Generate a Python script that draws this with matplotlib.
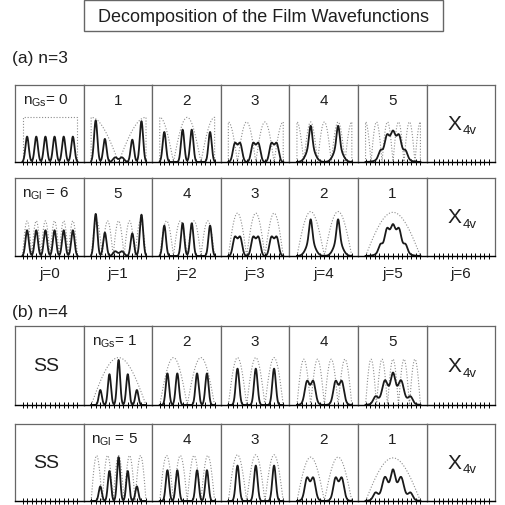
import numpy as np
import matplotlib
matplotlib.use("Agg")
import matplotlib.pyplot as plt
from matplotlib.patches import Rectangle

plt.rcParams["font.family"] = ["Liberation Sans", "DejaVu Sans"]
plt.rcParams["mathtext.fontset"] = "custom"
plt.rcParams["mathtext.rm"] = "Liberation Sans"
plt.rcParams["mathtext.it"] = "Liberation Sans:italic"

# ---- data ---------------------------------------------------------------
title = "Decomposition of the Film Wavefunctions"
j_labels = ["j=0", "j=1", "j=2", "j=3", "j=4", "j=5", "j=6"]

# (a) n=3 : panel labels, envelope index n_G, envelope amplitude
a_top_labels = [r"n$_{\mathrm{Gs}}$= 0", "1", "2", "3", "4", "5"]
a_top_nG = [0, 1, 2, 3, 4, 5]
a_top_amp = [0.58, 0.58, 0.58, 0.52, 0.52, 0.52]
a_bot_labels = [r"n$_{\mathrm{Gl}}$ = 6", "5", "4", "3", "2", "1"]
a_bot_nG = [6, 5, 4, 3, 2, 1]
a_bot_amp = [0.45, 0.45, 0.45, 0.55, 0.57, 0.56]

# (b) n=4 : columns j=1..5 (j=0 is the SS panel)
b_top_labels = [r"n$_{\mathrm{Gs}}$= 1", "2", "3", "4", "5"]
b_top_nG = [1, 2, 3, 4, 5]
b_top_amp = [0.60, 0.60, 0.60, 0.58, 0.58]
b_bot_labels = [r"n$_{\mathrm{Gl}}$ = 5", "4", "3", "2", "1"]
b_bot_nG = [5, 4, 3, 2, 1]
b_bot_amp = [0.59, 0.59, 0.60, 0.57, 0.56]

# projected film wavefunction per j: (position in film, height, width)
a_peaks = [
    [(0.083, 0.33, 0.03), (0.250, 0.33, 0.03), (0.417, 0.33, 0.03),
     (0.583, 0.33, 0.03), (0.750, 0.33, 0.03), (0.917, 0.33, 0.03)],
    [(0.083, 0.54, 0.03), (0.250, 0.30, 0.03), (0.440, 0.06, 0.04),
     (0.560, 0.06, 0.04), (0.750, 0.29, 0.03), (0.917, 0.53, 0.03)],
    [(0.083, 0.39, 0.03), (0.417, 0.42, 0.03), (0.583, 0.42, 0.03),
     (0.917, 0.39, 0.03)],
    [(0.117, 0.23, 0.036), (0.167, 0.05, 0.03), (0.217, 0.23, 0.036),
     (0.450, 0.23, 0.036), (0.500, 0.05, 0.03), (0.550, 0.23, 0.036),
     (0.783, 0.23, 0.036), (0.833, 0.05, 0.03), (0.883, 0.23, 0.036)],
    [(0.25, 0.27, 0.028), (0.25, 0.20, 0.075), (0.75, 0.27, 0.028), (0.75, 0.20, 0.075)],
    [(0.39, 0.20, 0.04), (0.50, 0.20, 0.04), (0.61, 0.20, 0.04),
     (0.50, 0.20, 0.15), (0.27, 0.09, 0.035), (0.73, 0.09, 0.035)],
]
b_peaks = [
    [(0.167, 0.19, 0.028), (0.333, 0.39, 0.028), (0.500, 0.57, 0.028),
     (0.667, 0.39, 0.028), (0.833, 0.19, 0.028)],
    [(0.14, 0.40, 0.03), (0.32, 0.40, 0.03), (0.68, 0.40, 0.03), (0.86, 0.40, 0.03)],
    [(0.167, 0.46, 0.032), (0.500, 0.46, 0.032), (0.833, 0.46, 0.032)],
    [(0.18, 0.20, 0.038), (0.30, 0.20, 0.038), (0.24, 0.14, 0.075),
     (0.70, 0.20, 0.038), (0.82, 0.20, 0.038), (0.76, 0.14, 0.075)],
    [(0.50, 0.23, 0.038), (0.35, 0.19, 0.045), (0.65, 0.19, 0.045),
     (0.50, 0.18, 0.17), (0.18, 0.08, 0.04), (0.82, 0.08, 0.04)],
]
n_layers = 12   # tick marks along each film

# ---- layout (pixels of the 506x506 figure) ------------------------------
W = H = 506
col_x0, col_w = 15, 68.6
rows = {"a_top": (86, 163), "a_bot": (179, 257),
        "b_top": (327, 406), "b_bot": (425, 502)}
FRAME = "0.4"
CURVE = "0.1"
DOTS = "0.55"
TXT = "0.12"

fig = plt.figure(figsize=(W / 100, H / 100), dpi=100)
z = np.linspace(0, 1, 600)


def panel(col, row):
    y0, y1 = rows[row]
    ax = fig.add_axes([(col_x0 + col * col_w) / W, 1 - y1 / H,
                       col_w / W, (y1 - y0) / H])
    ax.set_xlim(-0.11 / 0.8, 1 + 0.09 / 0.8)
    ax.set_ylim(0, 1)
    for s in ("left", "right", "top"):
        ax.spines[s].set_color(FRAME)
        ax.spines[s].set_linewidth(0.9)
    ax.spines["bottom"].set_color("k")
    ax.spines["bottom"].set_linewidth(1.0)
    ax.set_xticks(np.arange(n_layers + 1) / n_layers)
    ax.set_xticklabels([])
    ax.set_yticks([])
    ax.tick_params(axis="x", direction="inout", length=4, width=0.7, color="k")
    return ax


def envelope(ax, m, amp, kind):
    e = np.abs(np.cos(m * np.pi * z)) if kind == "cos" else np.abs(np.sin(m * np.pi * z))
    ax.plot(np.r_[0, z, 1], np.r_[0, amp * e, 0], ls=(0, (1, 1.6)),
            lw=0.8, color=DOTS)


def film_curve(ax, peaks):
    y = np.zeros_like(z)
    for c, h, w in peaks:
        y += h * np.exp(-(z - c) ** 2 / (2 * w ** 2))
    ax.plot(z, y, color=CURVE, lw=1.3)


def x4v(ax):
    ax.text(0.40, 0.50, "X", transform=ax.transAxes, ha="center", va="center",
            fontsize=15, color=TXT)
    ax.text(0.63, 0.41, "4v", transform=ax.transAxes, ha="center", va="center",
            fontsize=9.5, color=TXT)


def label(ax, s, first):
    x = 0.45 if first else 0.5
    ax.text(x, 0.81, s, transform=ax.transAxes, ha="center", va="center",
            fontsize=11, color=TXT)


# (a) n=3
for j in range(6):
    ax = panel(j, "a_top")
    envelope(ax, a_top_nG[j], a_top_amp[j], "cos")
    film_curve(ax, a_peaks[j])
    label(ax, a_top_labels[j], j == 0)

    ax = panel(j, "a_bot")
    envelope(ax, a_bot_nG[j], a_bot_amp[j], "sin")
    film_curve(ax, a_peaks[j])
    label(ax, a_bot_labels[j], j == 0)
x4v(panel(6, "a_top"))
x4v(panel(6, "a_bot"))

# (b) n=4
for row in ("b_top", "b_bot"):
    ax = panel(0, row)
    ax.text(0.46, 0.50, "SS", transform=ax.transAxes, ha="center", va="center",
            fontsize=14, color=TXT)
    x4v(panel(6, row))
for k in range(5):
    ax = panel(k + 1, "b_top")
    envelope(ax, b_top_nG[k], b_top_amp[k], "sin")
    film_curve(ax, b_peaks[k])
    label(ax, b_top_labels[k], k == 0)

    ax = panel(k + 1, "b_bot")
    envelope(ax, b_bot_nG[k], b_bot_amp[k], "sin")
    film_curve(ax, b_peaks[k])
    label(ax, b_bot_labels[k], k == 0)

# text outside the panels
for j, s in enumerate(j_labels):
    fig.text((col_x0 + (j + 0.5) * col_w) / W, 1 - 274 / H, s,
             ha="center", va="center", fontsize=11, color=TXT)
fig.text(12 / W, 1 - 58 / H, "(a) n=3", ha="left", va="center",
         fontsize=12.5, color=TXT)
fig.text(12 / W, 1 - 313 / H, "(b) n=4", ha="left", va="center",
         fontsize=12.5, color=TXT)

fig.patches.append(Rectangle((84 / W, 1 - 32 / H), (443 - 84) / W, 31 / H,
                             transform=fig.transFigure, fill=False,
                             edgecolor=FRAME, lw=1.0))
fig.text(263.5 / W, 1 - 17 / H, title, ha="center", va="center",
         fontsize=13, color=TXT)

fig.savefig("out.png", dpi=100)
